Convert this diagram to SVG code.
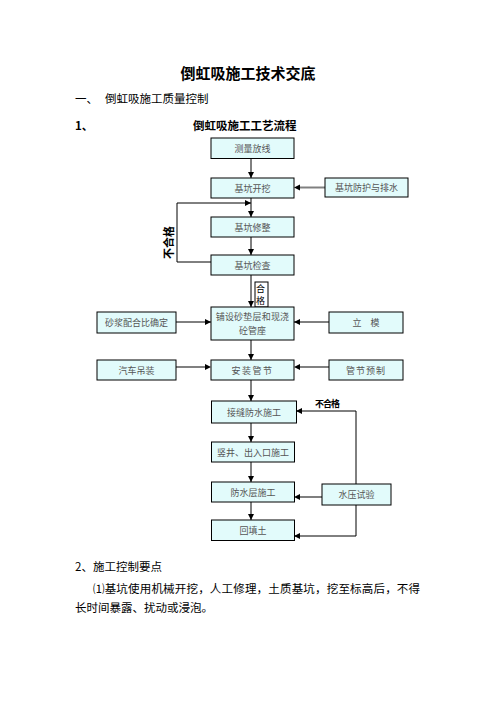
<svg xmlns="http://www.w3.org/2000/svg" width="496" height="702" viewBox="0 0 496 702">
<style>
.t{font-family:"Noto Sans CJK SC","Liberation Sans",sans-serif;fill:#000}
.b{fill:#e2fbfb;stroke:#000;stroke-width:1}
.bt{font-family:"Noto Sans CJK SC","Liberation Sans",sans-serif;font-size:9px;fill:#555;text-anchor:middle}
.c{fill:none;stroke:#000;stroke-width:1}
.g{fill:none;stroke:#808080;stroke-width:2}
</style>
<defs>
<marker id="a" viewBox="0 0 10 10" refX="10" refY="5" markerWidth="6" markerHeight="6" markerUnits="userSpaceOnUse" orient="auto"><path d="M0,0L10,5L0,10z" fill="#000"/></marker>
</defs>
<rect width="496" height="702" fill="#fff"/>
<text class="t" x="248" y="79" font-size="15" font-weight="bold" text-anchor="middle">倒虹吸施工技术交底</text>
<text class="t" x="75" y="103" font-size="11.5">一、</text>
<text class="t" x="105" y="103" font-size="11.5">倒虹吸施工质量控制</text>
<text class="t" x="75" y="130" font-size="11.5" font-weight="bold">1、</text>
<text class="t" x="193" y="130" font-size="11.5" font-weight="bold">倒虹吸施工工艺流程</text>

<g id="connectors">
<path class="c" d="M251,158V178" marker-end="url(#a)"/>
<path class="c" d="M251,198V217" marker-end="url(#a)"/>
<path class="c" d="M211,262H177V203H251" marker-end="url(#a)"/>
<path class="c" d="M251,237V255" marker-end="url(#a)"/>
<path class="c" d="M251,275V307" marker-end="url(#a)"/>
<path class="c" d="M251,340V360" marker-end="url(#a)"/>
<path class="c" d="M251,380V401" marker-end="url(#a)"/>
<path class="c" d="M251,423V442" marker-end="url(#a)"/>
<path class="c" d="M251,462V482" marker-end="url(#a)"/>
<path class="c" d="M251,502V520" marker-end="url(#a)"/>
<path class="g" d="M325,187.5H300"/><path d="M294,187.5l6,-3v6z" fill="#000"/>
<path class="c" d="M176,322H211" marker-end="url(#a)"/>
<path class="c" d="M329,322H294" marker-end="url(#a)"/>
<path class="g" d="M176,367H205"/><path d="M211,367l-6,-3v6z" fill="#000"/>
<path class="g" d="M329,367H300"/><path d="M294,367l6,-3v6z" fill="#000"/>
<path class="c" d="M356,484V411H296" marker-end="url(#a)"/>
<path class="c" d="M356,505V536H294" marker-end="url(#a)"/>
<path fill="none" stroke="#555" stroke-width="1.5" d="M322,497H300"/><path d="M294,497l6,-3v6z" fill="#000"/>
</g>

<text class="t" font-size="11" font-weight="bold" transform="translate(173,259) rotate(-90)">不合格</text>
<text class="t" x="315" y="407" font-size="9" font-weight="bold" letter-spacing="-1">不合格</text>

<g id="n1"><rect class="b" x="211" y="138" width="83" height="20.5"/><text class="bt" x="252.5" y="152">测量放线</text></g>
<g id="n2"><rect class="b" x="211" y="178" width="83" height="20"/><text class="bt" x="252.5" y="191.5">基坑开挖</text></g>
<g id="n3"><rect class="b" x="325" y="178" width="83" height="19"/><text class="bt" x="366.5" y="191">基坑防护与排水</text></g>
<g id="n4"><rect class="b" x="211" y="217" width="83" height="20"/><text class="bt" x="252.5" y="230.5">基坑修整</text></g>
<g id="n5"><rect class="b" x="211" y="255" width="83" height="20"/><text class="bt" x="252.5" y="268.5">基坑检查</text></g>
<g id="n6"><rect fill="#fff" stroke="#000" x="255" y="282" width="13" height="25"/><text class="t" x="256" y="292" font-size="9" fill="#555">合</text><text class="t" x="256" y="304" font-size="9" fill="#555">格</text></g>
<g id="n7"><rect class="b" x="211" y="307" width="83" height="33"/><text class="bt" x="252.5" y="320" letter-spacing="0.2">铺设砂垫层和现浇</text><text class="bt" x="252.5" y="334">砼管座</text></g>
<g id="n8"><rect class="b" x="97" y="312" width="79" height="21"/><text class="bt" x="136.5" y="326">砂浆配合比确定</text></g>
<g id="n9"><rect class="b" x="329" y="312" width="74" height="21"/><text class="bt" x="366" y="326" xml:space="preserve">立　模</text></g>
<g id="n10"><rect class="b" x="97" y="360" width="79" height="20"/><text class="bt" x="136.5" y="373.5">汽车吊装</text></g>
<g id="n11"><rect class="b" x="211" y="360" width="83" height="20"/><text class="bt" x="252.5" y="373.5" letter-spacing="1.5">安装管节</text></g>
<g id="n12"><rect class="b" x="329" y="360" width="74" height="20"/><text class="bt" x="366" y="373.5" letter-spacing="1">管节预制</text></g>
<g id="n13"><rect class="b" x="211.5" y="401" width="85" height="22"/><text class="bt" x="254" y="415.5">接缝防水施工</text></g>
<g id="n14"><rect class="b" x="211.5" y="442" width="83" height="20"/><text class="bt" x="253" y="455.5">竖井、出入口施工</text></g>
<g id="n15"><rect class="b" x="211.5" y="482" width="83" height="20"/><text class="bt" x="253" y="495.5">防水层施工</text></g>
<g id="n16"><rect class="b" x="211.5" y="520" width="83" height="20.5"/><text class="bt" x="253" y="534">回填土</text></g>
<g id="n17"><rect class="b" x="322" y="484" width="69" height="21"/><text class="bt" x="356.5" y="498">水压试验</text></g>

<text class="t" x="75" y="571" font-size="11.5">2、施工控制要点</text>
<text class="t" x="93" y="593" font-size="11.5" textLength="327" lengthAdjust="spacing">⑴基坑使用机械开挖，人工修理，土质基坑，挖至标高后，不得</text>
<text class="t" x="75" y="612" font-size="11.5">长时间暴露、扰动或浸泡。</text>
</svg>
